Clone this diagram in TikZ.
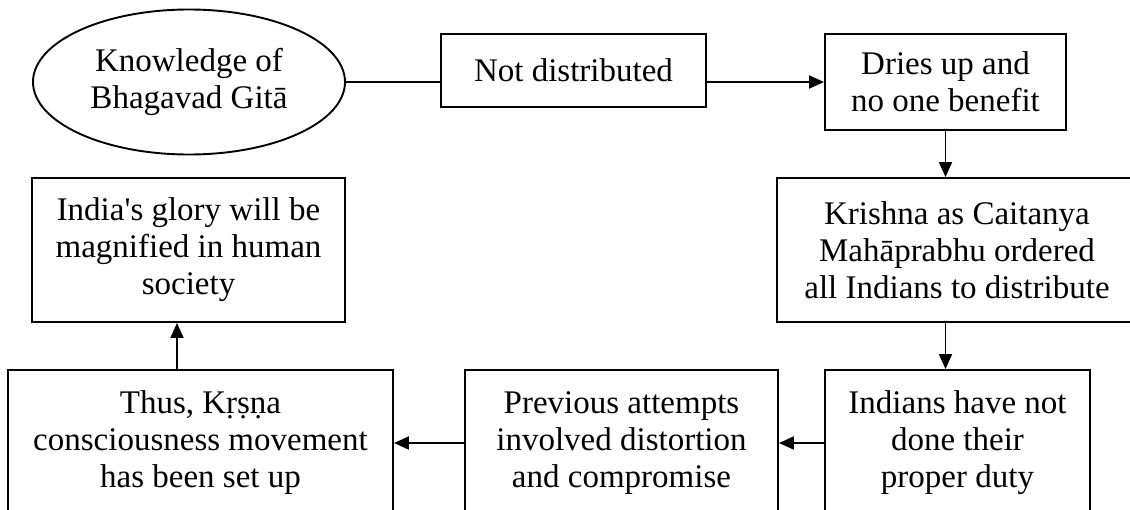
\documentclass[tikz,border=0pt]{standalone}
\usepackage{fontspec}
\setmainfont{Liberation Serif}
\usetikzlibrary{arrows.meta,shapes.geometric}

\begin{document}
\begin{tikzpicture}[x=1pt,y=-1pt,line width=1.9pt,>={Triangle[length=15pt,width=13pt]},
  box/.style={draw,rectangle,align=center,inner sep=0pt,font=\fontsize{33}{37}\selectfont},
  oval/.style={draw,ellipse,align=center,inner sep=0pt,font=\fontsize{33}{37}\selectfont}]
\useasboundingbox (0,0) rectangle (1130,509);
\clip (0,0) rectangle (1130,509);
% top row
\node[oval,minimum width=312pt,minimum height=145pt] (gita) at (189,82) {Knowledge of\\Bhagavad Gitā};
\node[box,minimum width=265pt,minimum height=73pt] (notdist) at (573.5,70.5) {Not distributed};
\node[box,minimum width=241pt,minimum height=96pt] (dries) at (945.5,82) {Dries up and\\no one benefit};
% middle row
\node[box,minimum width=313pt,minimum height=144pt] (glory) at (188.5,250) {India\textquotesingle s glory will be\\magnified in human\\society};
\node[box,minimum width=360pt,minimum height=144pt] (order) at (957,250) {Krishna as Caitanya\\Mahāprabhu ordered\\all Indians to distribute};
% bottom row (runs off the page)
\node[box,minimum width=385pt,minimum height=146pt] (movement) at (200.5,443) {Thus, Kṛṣṇa\\consciousness movement\\has been set up};
\node[box,minimum width=313pt,minimum height=146pt] (attempts) at (621.5,443) {Previous attempts\\involved distortion\\and compromise};
\node[box,minimum width=265pt,minimum height=146pt] (duty) at (957.5,443) {Indians have not\\done their\\proper duty};
% connectors
\draw (gita.east) -- (notdist.west |- gita.east);
\draw[->] (notdist.east |- dries.west) -- (dries.west);
\draw[->] (dries.south) -- (dries.south |- order.north);
\draw[->] (dries.south |- order.south) -- (dries.south |- duty.north);
\draw[->] (duty.west) -- (attempts.east);
\draw[->] (attempts.west) -- (movement.east);
\draw[->] ([xshift=-11.5pt]glory.south |- movement.north) -- ([xshift=-11.5pt]glory.south);
\end{tikzpicture}
\end{document}
